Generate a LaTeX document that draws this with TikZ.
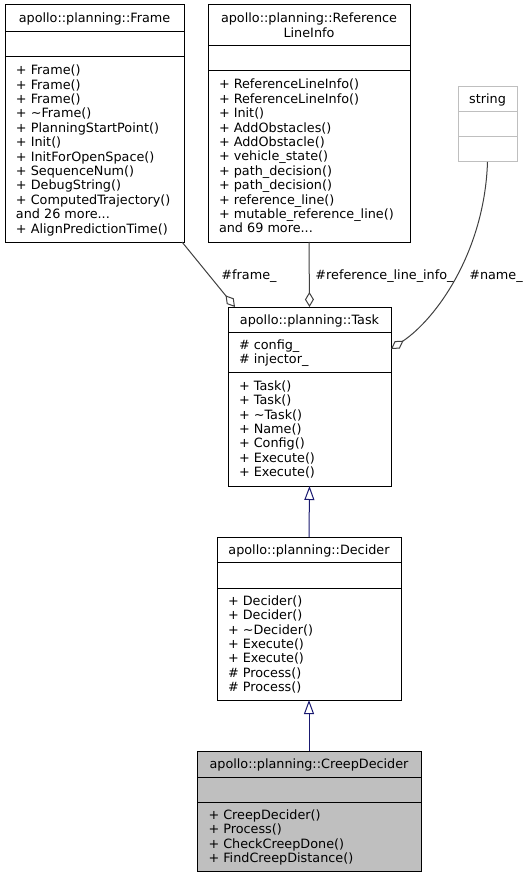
\documentclass[tikz,border=0pt]{standalone}
\usepackage{fontspec}
\setmainfont{DejaVu Sans}
\usetikzlibrary{arrows.meta}
\definecolor{edgegray}{HTML}{404040}
\definecolor{inhblue}{HTML}{191970}
\definecolor{lightbd}{HTML}{BFBFBF}
\definecolor{hlfill}{HTML}{BFBFBF}
\tikzset{
  umlframe/.style={draw=black, line width=1pt, inner sep=0pt, outer sep=0pt, rectangle},
  umltext/.style={font=\fontsize{12.8}{14.4}\selectfont, inner sep=0pt, outer sep=0pt, align=left, text=black},
  umltitle/.style={font=\fontsize{12.8}{14.4}\selectfont, inner sep=0pt, outer sep=0pt, align=center, text=black},
  agg/.style={draw=edgegray, line width=1pt, -{Diamond[open,length=15pt,width=9pt,line width=1pt]}},
  inh/.style={draw=inhblue, line width=1pt, -{Triangle[open,length=14pt,width=10pt,line width=1pt]}},
  lbl/.style={font=\fontsize{12.8}{14.4}\selectfont, inner sep=0pt, text=black, anchor=base}
}
% name, L, T, R, S1, S2, B, extra style
\newcommand\umlbox[8]{%
  \node[umlframe,#8, minimum width={#4-#2}, minimum height={#7-#3}, anchor=north west] (#1) at (#2,#3) {};
  \draw[umlframe,#8,fill=none] (#2,#5) -- (#4,#5) (#2,#6) -- (#4,#6);
}
% name, left x, first baseline, lines
\newcommand\umlsec[4]{%
  \node[umltext,anchor=north west] (#1) at (#2,{#3-10}) {\rule{0pt}{10pt}#4};
}
\begin{document}
\begin{tikzpicture}[x=1pt,y=-1pt]
\fill[white] (0,0) rectangle (529,877);
\useasboundingbox (0,0) rectangle (529,877);

% Frame
\umlbox{frame}{5}{5}{184}{32}{57}{242}{}
\node[umltitle,anchor=base] (frame-t) at (94.5,23) {apollo::planning::Frame};
\umlsec{frame-m}{16}{74.8}{+ Frame()\\+ Frame()\\+ Frame()\\+ \textasciitilde{}Frame()\\+ PlanningStartPoint()\\+ Init()\\+ InitForOpenSpace()\\+ SequenceNum()\\+ DebugString()\\+ ComputedTrajectory()\\and 26 more...\\+ AlignPredictionTime()}

% ReferenceLineInfo
\umlbox{ref}{208}{5}{410}{46}{71}{242}{}
\node[umltitle,anchor=north] (ref-t) at (309,{22.8-10}) {\rule{0pt}{10pt}apollo::planning::Reference\\LineInfo};
\umlsec{ref-m}{219}{89}{+ ReferenceLineInfo()\\+ ReferenceLineInfo()\\+ Init()\\+ AddObstacles()\\+ AddObstacle()\\+ vehicle\_state()\\+ path\_decision()\\+ path\_decision()\\+ reference\_line()\\+ mutable\_reference\_line()\\and 69 more...}

% string
\umlbox{str}{458}{87}{517}{112}{137}{162}{draw=lightbd}
\node[umltitle,anchor=base] (str-t) at (487.5,104) {string};

% Task
\umlbox{task}{228}{307}{391}{332}{372}{486}{}
\node[umltitle,anchor=base] (task-t) at (309.5,324) {apollo::planning::Task};
\umlsec{task-a}{239}{349.3}{\# config\_\\\# injector\_}
\umlsec{task-m}{239}{390.3}{+ Task()\\+ Task()\\+ \textasciitilde{}Task()\\+ Name()\\+ Config()\\+ Execute()\\+ Execute()}

% Decider
\umlbox{decider}{217}{537}{401}{562}{588}{700}{}
\node[umltitle,anchor=base] (decider-t) at (309,554) {apollo::planning::Decider};
\umlsec{decider-m}{228}{605.3}{+ Decider()\\+ Decider()\\+ \textasciitilde{}Decider()\\+ Execute()\\+ Execute()\\\# Process()\\\# Process()}

% CreepDecider
\umlbox{creep}{197}{751}{421}{777}{802}{871}{fill=hlfill}
\node[umltitle,anchor=base] (creep-t) at (309,768.5) {apollo::planning::CreepDecider};
\umlsec{creep-m}{208.5}{819.4}{+ CreepDecider()\\+ Process()\\+ CheckCreepDone()\\+ FindCreepDistance()}

% aggregation edges
\draw[agg] ([xshift=-2pt]frame.south east) -- ([xshift=7pt]task.north west);
\draw[agg] (ref.south) -- (task.north);
\draw[agg] (str.south) .. controls +(-3,90) and +(45,-30) .. ([yshift=-42pt]task.north east);

\node[lbl] (l-frame) at (249,279) {\#frame\_};
\node[lbl] (l-ref) at (384.5,279) {\#reference\_line\_info\_};
\node[lbl] (l-name) at (496,279) {\#name\_};

% inheritance edges
\draw[inh] (decider.north) -- (task.south);
\draw[inh] (creep.north) -- (decider.south);
\end{tikzpicture}
\end{document}
